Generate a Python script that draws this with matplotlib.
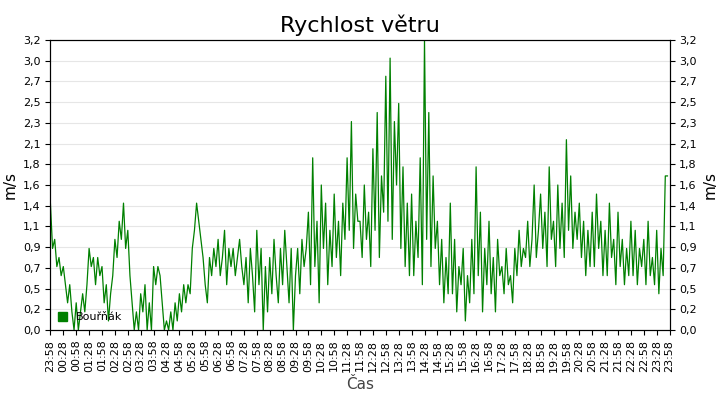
import matplotlib
matplotlib.use("Agg")
import matplotlib.pyplot as plt
import numpy as np

segments = [
[1.4,0.9,1.0,0.7,0.8,0.6],[0.7,0.5,0.3,0.5,0.2,0.0],[0.3,0.0,0.2,0.4,0.2,0.5],[0.9,0.7,0.8,0.5,0.8,0.6],
[0.7,0.3,0.5,0.1,0.4,0.6],[1.0,0.8,1.2,1.0,1.4,0.9],[1.1,0.6,0.3,0.0,0.2,0.0],[0.4,0.2,0.5,0.0,0.3,0.0],
[0.7,0.5,0.7,0.6,0.3,0.0],[0.1,0.0,0.2,0.0,0.3,0.1],[0.4,0.2,0.5,0.3,0.5,0.4],[0.9,1.1,1.4,1.2,1.0,0.8],
[0.5,0.3,0.8,0.6,0.9,0.7],[1.0,0.6,0.8,1.1,0.5,0.9],[0.7,0.9,0.6,0.8,1.0,0.7],[0.5,0.8,0.3,0.9,0.6,0.2],
[1.1,0.5,0.9,0.0,0.7,0.2],[0.8,0.4,1.0,0.6,0.3,0.9],[0.5,1.1,0.7,0.3,0.9,0.0],[0.6,0.9,0.4,1.0,0.7,0.9],
[1.3,0.5,1.9,0.7,1.2,0.3],[1.6,0.9,1.4,0.5,1.1,0.7],[1.5,0.8,1.2,0.6,1.4,1.0],[1.9,1.1,2.3,0.9,1.5,1.2],
[1.2,0.8,1.6,1.0,1.3,0.7],[2.0,1.1,2.4,0.8,1.7,1.3],[2.8,1.2,3.0,1.0,2.3,1.6],[2.5,0.9,1.8,0.7,1.4,0.6],
[1.5,0.6,1.2,0.8,1.9,0.5],[3.2,1.0,2.4,0.7,1.7,0.9],[1.2,0.5,1.0,0.3,0.8,0.4],[1.4,0.4,1.0,0.2,0.7,0.5],
[0.9,0.1,0.6,0.3,1.0,0.4],[1.8,0.6,1.3,0.2,0.9,0.5],[1.2,0.4,0.8,0.2,1.0,0.6],[0.7,0.4,0.9,0.5,0.6,0.3],
[0.9,0.6,1.1,0.7,0.9,0.8],[1.2,0.7,1.0,1.6,0.8,1.1],[1.5,0.9,1.3,0.7,1.8,1.0],[1.2,0.7,1.6,0.9,1.4,0.8],
[2.1,1.1,1.7,0.9,1.3,1.0],[1.4,0.8,1.2,0.6,1.1,0.7],[1.3,0.7,1.5,0.9,1.2,0.6],[1.1,0.6,1.4,0.8,1.0,0.5],
[1.3,0.7,1.0,0.5,0.9,0.6],[1.2,0.6,1.1,0.5,0.9,0.7],[1.0,0.5,1.2,0.6,0.8,0.5],[1.1,0.4,0.9,0.6,1.7,1.7],
]
values = [v for s in segments for v in s]
tick_labels = []
for i in range(49):
    m = (23*60+58 + 30*i) % (24*60)
    tick_labels.append(f"{m//60:02d}:{m%60:02d}")

fig = plt.figure(figsize=(7.2, 4.0), dpi=100)
ax = fig.add_axes([0.07, 0.175, 0.86, 0.725])
x = np.arange(len(values)) / 6.0
ax.plot(x, values, color="#008000", lw=0.9)
ax.set_xlim(0, 48)
ymax = 3.2
ax.set_ylim(0, ymax)
yt = np.linspace(0, ymax, 15)
ylabels = [f"{v:.1f}".replace(".", ",") for v in yt]
ax.set_yticks(yt)
ax.set_yticklabels(ylabels, fontsize=8)
ax.set_xticks(np.arange(49))
ax.set_xticklabels(tick_labels, rotation=90, fontsize=8)
ax.grid(axis="y", color="#e6e6e6", lw=0.8)
ax.set_axisbelow(True)
ax2 = ax.twinx()
ax2.set_ylim(0, ymax)
ax2.set_yticks(yt)
ax2.set_yticklabels(ylabels, fontsize=8)
ax2.set_ylabel("m/s", fontsize=11)
ax.set_ylabel("m/s", fontsize=11)
ax.set_xlabel("Čas", fontsize=11, color="#444444")
ax.set_title("Rychlost větru", fontsize=16)
ax.legend(loc="lower left", fontsize=8, frameon=False, handlelength=0.8, handleheight=0.8,
          borderaxespad=0.3, handles=[plt.Rectangle((0,0),1,1,color="#008000")], labels=["Bouřňák"])
fig.savefig("out.png", dpi=100)
